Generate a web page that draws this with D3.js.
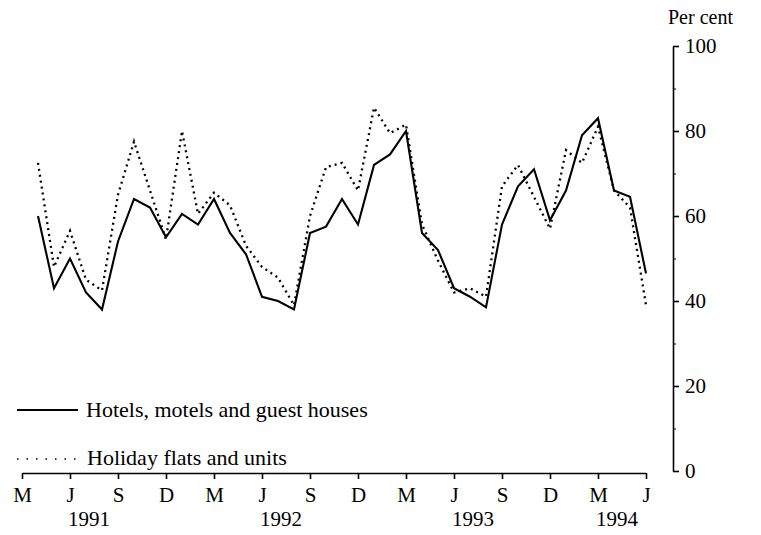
<!DOCTYPE html>
<html>
<head>
<meta charset="utf-8">
<script src="https://cdn.jsdelivr.net/npm/d3@7"></script>
<style>
  body { margin: 0; background: #fff; }
  text { font-family: "Liberation Serif", "Times New Roman", serif; fill: #000; }
</style>
</head>
<body>
<svg width="761" height="535"></svg>
<script>
// monthly occupancy, April 1991 to June 1994
var hotels = [60, 43, 50, 42, 38, 54, 64, 62, 55,
    60.5, 58, 64, 56, 51, 41, 40, 38, 56, 57.5, 64, 58,
    72, 74.5, 80, 56, 52, 43, 41, 38.5, 58, 67, 71, 59,
    66, 79, 83, 66, 64.5, 46.5];
var flats = [72.5, 48, 56.5, 45, 42.5, 65, 77.5, 66, 54.5,
    80, 60.5, 65.5, 62.5, 53, 48, 45.5, 39, 60, 71.5, 72.5, 66,
    85.5, 79.5, 81.5, 58, 49.5, 42, 43, 41, 67, 72, 64.5, 57,
    75.5, 72.5, 81, 66, 62, 39];
var firstMonth = new Date(1991, 3, 1);
var axisStart = new Date(1991, 2, 1);
var axisEnd = new Date(1994, 5, 1);
var monthLetters = ["J", "F", "M", "A", "M", "J", "J", "A", "S", "O", "N", "D"];
var years = ["1991", "1992", "1993", "1994"];
var yearMonths = [new Date(1991, 6, 1), new Date(1992, 6, 1), new Date(1993, 6, 1), new Date(1994, 3, 1)];
var yTicks = [0, 20, 40, 60, 80, 100];
var yMinor = [10, 30, 50, 70, 90];
var seriesNames = ["Hotels, motels and guest houses", "Holiday flats and units"];

var svg = d3.select("svg");

var xs = d3.scaleLinear()
    .domain([0, d3.timeMonth.count(axisStart, axisEnd)])
    .range([22, 646]);
var x = function (date) { return xs(d3.timeMonth.count(axisStart, date)); };
var y = d3.scaleLinear().domain([0, 100]).range([471, 46]);

var months = hotels.map(function (v, i) { return d3.timeMonth.offset(firstMonth, i); });

// x axis, quarterly ticks
var quarters = d3.timeMonth.range(axisStart, d3.timeMonth.offset(axisEnd, 1), 3);
var xAxis = svg.append("g")
    .attr("transform", "translate(0,473)")
    .call(d3.axisBottom(xs)
        .tickValues(quarters.map(function (d) { return d3.timeMonth.count(axisStart, d); }))
        .tickSize(6)
        .tickSizeOuter(0)
        .tickFormat(function (d, i) { return monthLetters[quarters[i].getMonth()]; }));
xAxis.selectAll("path, line").attr("stroke", "#000").attr("stroke-width", 1.6);
xAxis.selectAll("text").attr("y", 29).attr("dy", 0)
    .style("font-size", "21px");

svg.append("g").selectAll("text")
    .data(years)
    .enter().append("text")
    .attr("x", function (d, i) { return x(yearMonths[i]) + 3; })
    .attr("y", 526)
    .attr("text-anchor", "middle")
    .style("font-size", "21px")
    .text(function (d) { return d; });

// y axis on the right
var yAxis = svg.append("g")
    .attr("transform", "translate(673,0)")
    .call(d3.axisRight(y).tickValues(yTicks).tickSize(6).tickSizeOuter(0).tickPadding(6));
yAxis.selectAll("path, line").attr("stroke", "#000").attr("stroke-width", 1.6);
yAxis.selectAll("text").style("font-size", "21px");

svg.append("g")
    .attr("transform", "translate(673,0)")
    .call(d3.axisRight(y).tickValues(yMinor).tickSize(3).tickFormat(""))
    .call(function (g) { g.select(".domain").remove(); })
    .selectAll("line").attr("stroke", "#000").attr("stroke-width", 1);

svg.append("text")
    .attr("x", 668)
    .attr("y", 24)
    .style("font-size", "20px")
    .text("Per cent");

// series
var line = d3.line()
    .x(function (d, i) { return x(months[i]); })
    .y(function (d) { return y(d); });

svg.append("path")
    .datum(flats)
    .attr("d", line)
    .attr("fill", "none")
    .attr("stroke", "#000")
    .attr("stroke-width", 2.3)
    .attr("stroke-dasharray", "2,4");

svg.append("path")
    .datum(hotels)
    .attr("d", line)
    .attr("fill", "none")
    .attr("stroke", "#000")
    .attr("stroke-width", 2.1)
    .attr("stroke-linejoin", "miter");

// legend
var legend = svg.append("g");
legend.append("line")
    .attr("x1", 17).attr("x2", 78).attr("y1", 410).attr("y2", 410)
    .attr("stroke", "#000").attr("stroke-width", 1.8);
legend.append("text")
    .attr("x", 86).attr("y", 417)
    .style("font-size", "22px")
    .text(seriesNames[0]);
legend.append("line")
    .attr("x1", 17).attr("x2", 78).attr("y1", 459).attr("y2", 459)
    .attr("stroke", "#000").attr("stroke-width", 1.3)
    .attr("stroke-dasharray", "1.5,8");
legend.append("text")
    .attr("x", 87).attr("y", 465)
    .style("font-size", "22px")
    .text(seriesNames[1]);
</script>
</body>
</html>
